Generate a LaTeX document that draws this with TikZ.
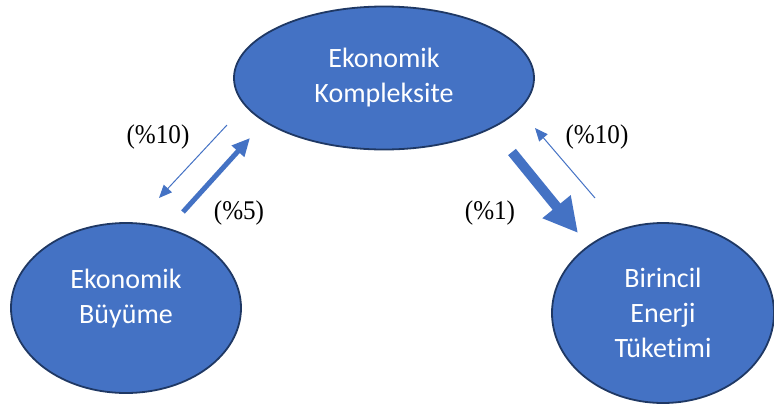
\documentclass[tikz,border=0pt]{standalone}
\usepackage{fontspec}
\usepackage{graphicx}
\setmainfont{Liberation Serif}
\newfontfamily\ovalfont[Ligatures=NoCommon]{Carlito}
\usepackage{tikz}
\usetikzlibrary{shapes.geometric, arrows.meta}
\definecolor{ovalblue}{HTML}{4472C4}
\definecolor{rimblue}{HTML}{1F3864}
\newcommand{\pcttext}[1]{\scalebox{0.93}[1]{#1}}

\begin{document}
\begin{tikzpicture}[x=1pt, y=-1pt,
  oval/.style={ellipse, draw=rimblue, line width=1.8pt, fill=ovalblue, text=white, align=center, inner sep=0pt, font=\ovalfont\fontsize{28}{35}\selectfont},
  pct/.style={inner sep=0pt, font=\fontsize{27}{30}\selectfont},
  thinarrow/.style={ovalblue, line width=1pt, -{Triangle[length=13pt, width=11pt]}},
  thickarrow/.style={ovalblue, line width=5pt, -{Triangle[length=18pt, width=16pt]}},
  bigarrow/.style={ovalblue, line width=10pt, -{Triangle[length=34pt, width=34pt]}}]
\useasboundingbox (0,0) rectangle (774,405);
\node[oval, minimum width=300pt, minimum height=143pt] (kompleks) at (384,78) {Ekonomik\\Kompleksite};
\node[oval, minimum width=230pt, minimum height=170pt, text depth=24pt] (buyume) at (126,308) {Ekonomik\\Büyüme};
\node[oval, minimum width=222pt, minimum height=180pt] (enerji) at (663,313) {Birincil\\Enerji\\Tüketimi};
\coordinate (kb-start) at (227,125);
\coordinate (kb-end) at (159,198);
\coordinate (bk-start) at (183,212);
\coordinate (bk-end) at (250,138);
\coordinate (ke-start) at (512,152);
\coordinate (ke-end) at (578,233);
\coordinate (ek-start) at (595,198);
\coordinate (ek-end) at (535,128);
\draw[thinarrow] (kb-start) -- (kb-end);
\draw[thickarrow] (bk-start) -- (bk-end);
\draw[bigarrow] (ke-start) -- (ke-end);
\draw[thinarrow] (ek-start) -- (ek-end);
\node[pct] (kb-pct) at (158,137) {\pcttext{(\%10)}};
\node[pct] (bk-pct) at (239,213) {\pcttext{(\%5)}};
\node[pct] (ke-pct) at (490,213) {\pcttext{(\%1)}};
\node[pct] (ek-pct) at (597,137) {\pcttext{(\%10)}};
\end{tikzpicture}
\end{document}
